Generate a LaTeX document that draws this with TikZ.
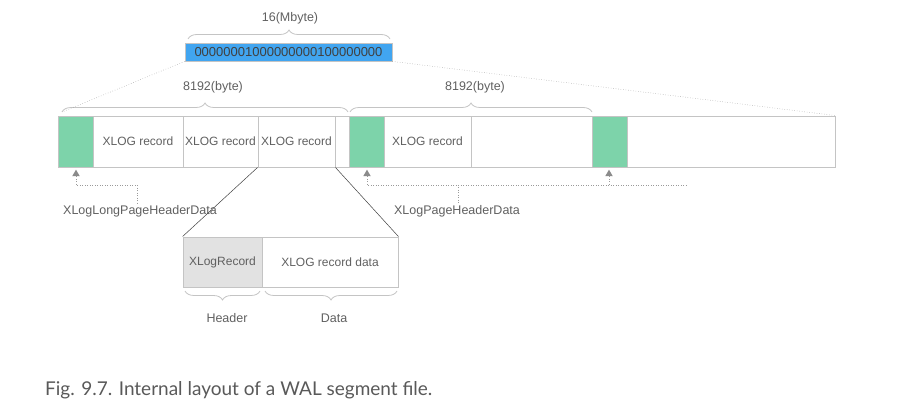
\documentclass[tikz,border=0pt]{standalone}
\usepackage{fontspec}
\setmainfont{Liberation Sans}
\newfontfamily\capfont{Lato}
\usetikzlibrary{decorations.pathreplacing,shapes.geometric}
\definecolor{txt}{HTML}{606060}
\definecolor{bord}{HTML}{C4C4C4}
\definecolor{grn}{HTML}{7DD3AA}
\definecolor{blu}{HTML}{41A5F0}
\definecolor{hdrgray}{HTML}{E2E2E2}
\definecolor{guide}{HTML}{9A9A9A}
\tikzset{
  cell/.style={draw=bord, line width=0.9pt, inner sep=0pt, minimum height=51pt, text=txt, font=\fontsize{12}{14}\selectfont},
  gcell/.style={cell, fill=grn},
  lbl/.style={text=txt, inner sep=0pt, font=\fontsize{12.5}{14}\selectfont},
  bracestyle/.style={draw=bord, line width=0.8pt, decorate, decoration={brace, amplitude=9pt, raise=0pt}},
  guideline/.style={draw=guide, line width=0.5pt, dotted},
  conn/.style={draw=black!75, line width=0.5pt},
  tri/.style={fill=guide!90!black, draw=none, isosceles triangle, isosceles triangle apex angle=60, shape border rotate=90, inner sep=0pt, minimum height=6.5pt, minimum width=7pt},
}
\begin{document}
\begin{tikzpicture}[x=1pt,y=-1pt]
\useasboundingbox (0,0) rectangle (909,411);
% blue file name
\node[draw=bord, fill=blu, line width=0.8pt, minimum width=207pt, minimum height=18pt, inner sep=0pt, text=black!75, font=\fontsize{13}{14}\selectfont] (fname) at (288.5,52) {00000001000000000100000000};
\coordinate (mb1) at (188,39);
\coordinate (mb2) at (390,39);
\draw[bracestyle] (mb1) -- (mb2);
\node[lbl] (mlabel) at (290,18) {16(Mbyte)};
% main bar
\node[gcell, minimum width=35pt] (g1) at (75.5,141.5) {};
\node[cell, minimum width=90pt] (r1) at (138,141.5) {XLOG record};
\node[cell, minimum width=75pt] (r2) at (220.5,141.5) {XLOG record};
\node[cell, minimum width=77pt] (r3) at (296.5,141.5) {XLOG record};
\node[cell, minimum width=14pt] (gap) at (342,141.5) {};
\node[gcell, minimum width=35pt] (g2) at (366.5,141.5) {};
\node[cell, minimum width=87pt] (r4) at (427.5,141.5) {XLOG record};
\node[cell, minimum width=121pt] (b1) at (531.5,141.5) {};
\node[gcell, minimum width=35pt] (g3) at (609.5,141.5) {};
\node[cell, minimum width=208pt] (b2) at (731,141.5) {};
% page braces
\coordinate (pa1) at (62,112);
\coordinate (pa2) at (348,112);
\coordinate (pb1) at (350,112);
\coordinate (pb2) at (592,112);
\draw[bracestyle] (pa1) -- (pa2);
\draw[bracestyle] (pb1) -- (pb2);
\node[lbl] (pla) at (213,87) {8192(byte)};
\node[lbl] (plb) at (475,87) {8192(byte)};
% guide lines from file name
\draw[guideline] (fname.south west) -- (pa1);
\draw[guideline] (fname.south east) -- (b2.north east);
% header arrows
\node[tri] (t1) at (76,174) {};
\node[tri] (t2) at (367,174) {};
\node[tri] (t3) at (609,174) {};
\coordinate (h1) at (76,185);
\coordinate (h1b) at (137,185);
\coordinate (h2) at (367,185);
\coordinate (h2b) at (687,185);
\coordinate (h2c) at (458,185);
\coordinate (h3) at (609,185);
\node[lbl] (longhdr) at (140,211) {XLogLongPageHeaderData};
\node[lbl] (pghdr) at (457,211) {XLogPageHeaderData};
\draw[guideline] (t1.south) -- (h1) -- (h1b) -- (longhdr.north -| h1b);
\draw[guideline] (t2.south) -- (h2) -- (h2b);
\draw[guideline] (h2c) -- (pghdr.north -| h2c);
\draw[guideline] (t3.south) -- (h3);
% record detail
\node[cell, fill=hdrgray, minimum width=79pt, minimum height=50pt] (hdr) at (222.5,262) {XLogRecord};
\node[cell, minimum width=136pt, minimum height=50pt] (dat) at (330,262) {XLOG record data};
\draw[conn] (r3.south west) -- (hdr.north west);
\draw[conn] (r3.south east) -- (dat.north east);
\coordinate (hb1) at (260,291);
\coordinate (hb2) at (185,291);
\coordinate (db1) at (397,291);
\coordinate (db2) at (265,291);
\draw[bracestyle] (hb1) -- (hb2);
\draw[bracestyle] (db1) -- (db2);
\node[lbl] (hlabel) at (227,318) {Header};
\node[lbl] (dlabel) at (334,318) {Data};
% caption
\node[anchor=west, inner sep=0pt, text=black!65, font=\capfont\fontsize{19}{21}\selectfont] (cap) at (45,390) {Fig. 9.7. Internal layout of a WAL segment file.};
\end{tikzpicture}
\end{document}
